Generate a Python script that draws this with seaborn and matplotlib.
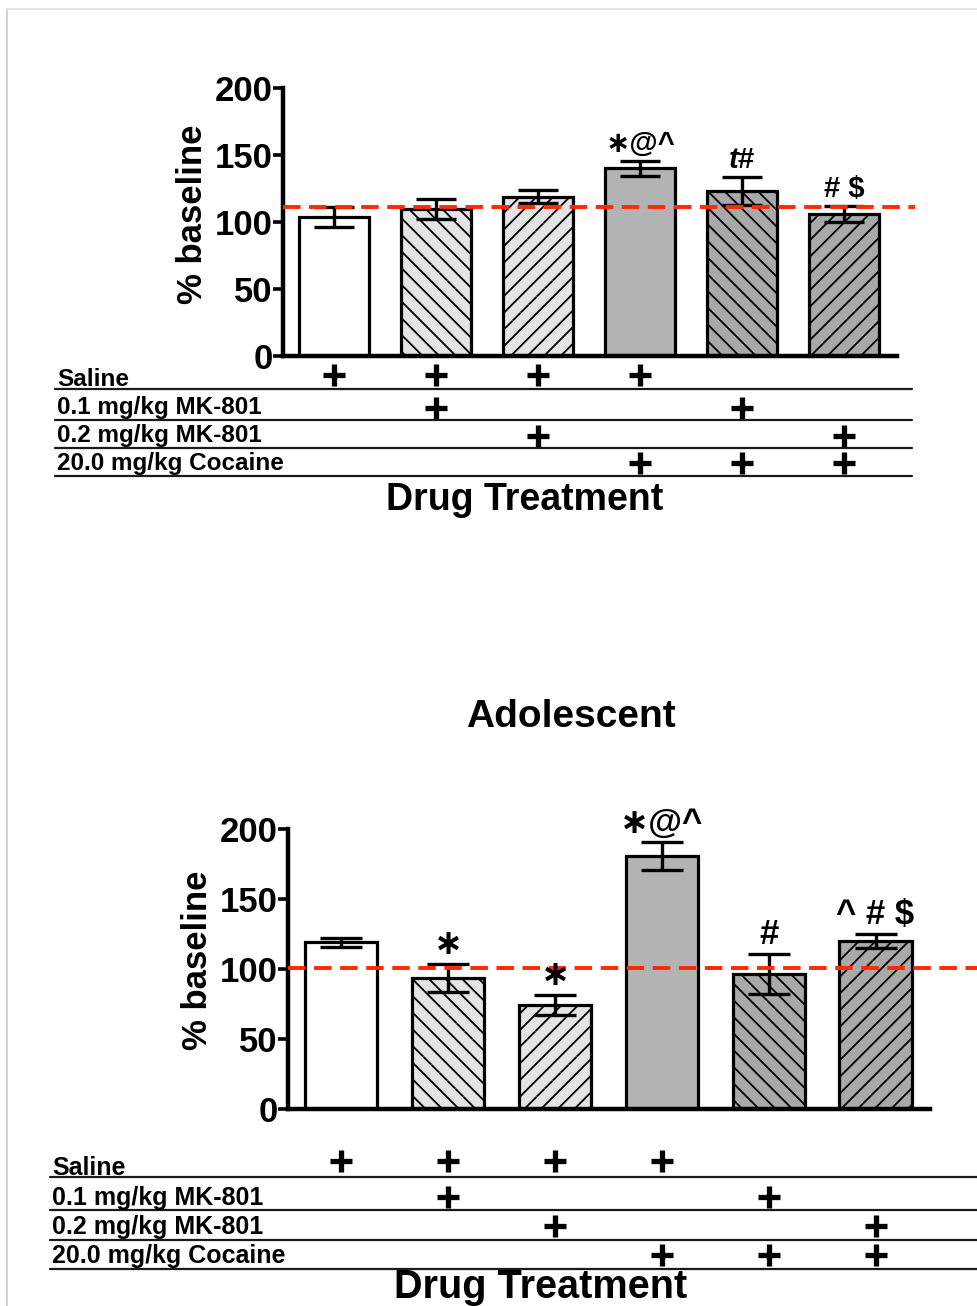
import numpy as np
import pandas as pd
import matplotlib
matplotlib.use("Agg")
import matplotlib.pyplot as plt
import matplotlib.transforms as mtransforms
from matplotlib.lines import Line2D
import seaborn as sns

# ---- data -------------------------------------------------------------
groups = ["Saline", "MK-801 0.1", "MK-801 0.2", "Cocaine",
          "MK-801 0.1 + Cocaine", "MK-801 0.2 + Cocaine"]

upper_mean = [104, 110, 119, 140, 123, 106]
upper_sem = [7.5, 7.5, 5, 5.5, 10.5, 6]
upper_ref = 111.5
upper_marks = ["", "", "", "\u2217@^", r"$\mathit{t}$#", "# $"]

adol_mean = [119, 93.5, 74.5, 180.5, 96.5, 120]
adol_sem = [3.5, 10, 7, 10, 14.5, 5]
adol_ref = 101
adol_marks = ["", "\u2217", "\u2217", "\u2217@^", "#", "^ # $"]

row_labels = ["Saline", "0.1 mg/kg MK-801", "0.2 mg/kg MK-801", "20.0 mg/kg Cocaine"]
saline_rx = [1, 1, 1, 1, 0, 0]
mk01_rx = [0, 1, 0, 0, 1, 0]
mk02_rx = [0, 0, 1, 0, 0, 1]
cocaine_rx = [0, 0, 0, 1, 1, 1]

yticks = [0, 50, 100, 150, 200]

# ---- styling ----------------------------------------------------------
fills = ["#ffffff", "#e4e4e4", "#e4e4e4", "#b3b3b3", "#a9a9a9", "#a9a9a9"]
hatches = [None, "\\\\", "//", None, "\\\\", "//"]

sns.set_theme(style="white")
plt.rcParams["font.family"] = ["Liberation Sans", "DejaVu Sans"]
plt.rcParams["font.weight"] = "bold"
plt.rcParams["text.color"] = "black"
plt.rcParams["axes.labelcolor"] = "black"
plt.rcParams["ytick.color"] = "black"
plt.rcParams["xtick.color"] = "black"
plt.rcParams["hatch.linewidth"] = 1.3
plt.rcParams["mathtext.fontset"] = "custom"
plt.rcParams["mathtext.it"] = "Liberation Sans:italic:bold"

W, H = 977, 1306
fig = plt.figure(figsize=(W / 100, H / 100), dpi=100)


def fx(px):
    return px / W


def fy(py):
    return 1 - py / H


def panel(rect, means, sems, ref, marks, xlim, bar_w, capsize, mark_size,
          ref_extent, ylab_x):
    ax = fig.add_axes(rect)
    df = pd.DataFrame({"group": groups, "value": means})
    sns.barplot(data=df, x="group", y="value", hue="group", order=groups,
                hue_order=groups, palette=fills, dodge=False, legend=False,
                width=bar_w, edgecolor="black", linewidth=2.3,
                errorbar=None, ax=ax, zorder=2)
    for cont, h in zip(ax.containers, hatches):
        for bar in cont:
            if h:
                bar.set_hatch(h)
    xs = np.arange(len(groups))
    ax.errorbar(xs, means, yerr=sems, fmt="none", ecolor="black",
                elinewidth=2.4, capsize=capsize, capthick=2.4, zorder=4)
    ax.axhline(ref, xmin=0, xmax=ref_extent, color="#ff2a00", lw=2.8,
               dashes=(4.5, 2.2), zorder=6, clip_on=False)
    for x, m, s, t in zip(xs, means, sems, marks):
        if t:
            ax.annotate(t, (x, m + s), xytext=(0, 2), textcoords="offset points",
                        ha="center", va="bottom", fontsize=mark_size,
                        fontweight="bold", zorder=7,
                        family=["Liberation Sans", "DejaVu Sans"])
    ax.set_xlim(*xlim)
    ax.set_ylim(0, 200)
    ax.set_yticks(yticks)
    ax.set_yticklabels([str(v) for v in yticks])
    ax.set_xticks([])
    ax.set_xlabel("")
    ax.set_ylabel("% baseline", fontsize=25, fontweight="bold", color="black")
    ax.yaxis.set_label_coords(ylab_x, 0.53)
    ax.tick_params(axis="y", direction="out", length=7, width=2.6, pad=0.5,
                   labelsize=25, left=True, colors="black")
    for lab in ax.get_yticklabels():
        lab.set_fontweight("bold")
    for side in ["top", "right"]:
        ax.spines[side].set_visible(False)
    for side in ["left", "bottom"]:
        ax.spines[side].set_linewidth(3.2)
        ax.spines[side].set_color("black")
    ax.set_facecolor("none")
    return ax


def treatment_table(ax, label_x, baselines, line_ys, plus_ys, line_x0, line_x1,
                    size):
    blend = mtransforms.blended_transform_factory(ax.transData, fig.transFigure)
    rows = [saline_rx, mk01_rx, mk02_rx, cocaine_rx]
    for lab, base, ly, py, rx in zip(row_labels, baselines, line_ys, plus_ys, rows):
        fig.text(fx(label_x), fy(base), lab, fontsize=size, fontweight="bold",
                 ha="left", va="baseline", color="black")
        fig.add_artist(Line2D([fx(line_x0), fx(line_x1)], [fy(ly), fy(ly)],
                              color="#1a1a1a", lw=1.6))
        cols = [i for i, v in enumerate(rx) if v]
        ax.plot(cols, [fy(py)] * len(cols), linestyle="none", marker="+",
                markersize=16, markeredgewidth=3.8, color="black",
                transform=blend, clip_on=False)


# upper panel
ax1 = panel([fx(283), fy(356), fx(897) - fx(283), fy(88) - fy(356)],
            upper_mean, upper_sem, upper_ref, upper_marks,
            xlim=(-0.5, 5.52), bar_w=0.69, capsize=14.5, mark_size=21,
            ref_extent=1.03, ylab_x=-0.12)
treatment_table(ax1, 57, [386, 414, 442, 470], [389, 420, 448, 476],
                [375, 408, 436, 463], 55, 912, 17.5)
fig.text(fx(525), fy(510), "Drug Treatment", fontsize=27, fontweight="bold",
         ha="center", va="baseline", color="black")

# adolescent panel
fig.text(fx(571), fy(727), "Adolescent", fontsize=28, fontweight="bold",
         ha="center", va="baseline", color="black")
ax2 = panel([fx(288), fy(1109), fx(930) - fx(288), fy(829) - fy(1109)],
            adol_mean, adol_sem, adol_ref, adol_marks,
            xlim=(-0.5, 5.51), bar_w=0.675, capsize=15, mark_size=25,
            ref_extent=1.075, ylab_x=-0.116)
treatment_table(ax2, 52, [1175, 1205, 1234, 1263], [1177, 1210, 1240, 1269],
                [1161, 1197, 1226, 1255], 50, 977, 18)
fig.text(fx(541), fy(1298), "Drug Treatment", fontsize=28.5, fontweight="bold",
         ha="center", va="baseline", color="black")

# page frame
fig.add_artist(Line2D([fx(7), fx(7)], [fy(9), 0], color="#cccccc", lw=1.2))
fig.add_artist(Line2D([fx(7), 1], [fy(9), fy(9)], color="#e0e0e0", lw=1.2))

fig.savefig("out.png", dpi=100, facecolor="white")
